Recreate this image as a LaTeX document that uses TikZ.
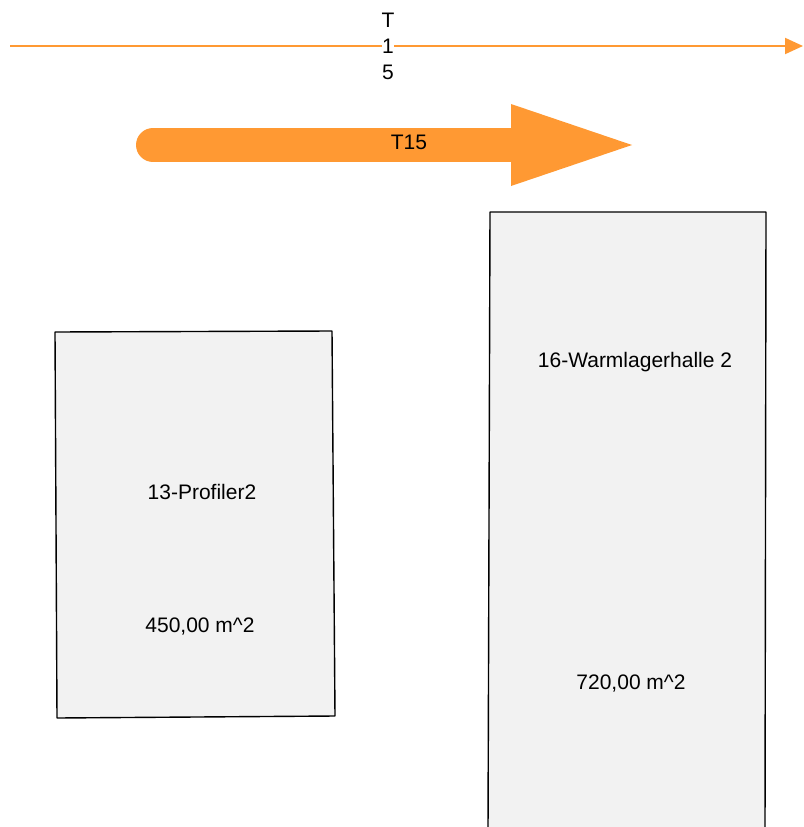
\documentclass[tikz,border=0pt]{standalone}
\usepackage{fontspec}
\setmainfont{Liberation Sans}
\usetikzlibrary{arrows.meta}
\definecolor{flow}{HTML}{FF9933}
\definecolor{hallgray}{HTML}{F2F2F2}
\tikzset{
  hall/.style={draw=black, fill=hallgray, line width=1.4pt, line join=round},
  lbl/.style={font=\fontsize{21}{26}\selectfont, text=black, inner sep=0pt, align=center},
  flowline/.style={draw=flow, line width=2pt, -{Triangle[length=18pt,width=16pt]}},
  flowbig/.style={draw=flow, line width=34pt, line cap=round}
}
\begin{document}
\begin{tikzpicture}[x=1pt,y=-1pt]
    \useasboundingbox (0,0) rectangle (803,827);

    % top route
    \coordinate (topA) at (10,46);
    \coordinate (topB) at (803,46);
    \draw[flowline] (topA) -- (topB);
    \node[lbl, fill=white] (topT15) at (388,46) {T\\1\\5};

    % big route arrow
    \coordinate (bigA) at (153,145);
    \coordinate (bigB) at (512,145);
    \draw[flowbig] (bigA) -- (bigB);
    \fill[flow] (511,104) -- (632,145) -- (511,186) -- cycle;
    \node[lbl] (bigT15) at (409,142) {T15};

    % halls
    \draw[hall] (55,332) -- (332,331) -- (335,716) -- (57,718) -- cycle;
    \node[lbl] (profName) at (202,492) {13-Profiler2};
    \node[lbl] (profArea) at (200,627) {450,00 m\^{}2};

    \draw[hall] (490,212) -- (766,212) -- (765,832) -- (488,832) -- cycle;
    \node[lbl] (warmName) at (635,362) {16-Warmlagerhalle 2};
    \node[lbl] (warmArea) at (631,684) {720,00 m\^{}2};
\end{tikzpicture}
\end{document}
